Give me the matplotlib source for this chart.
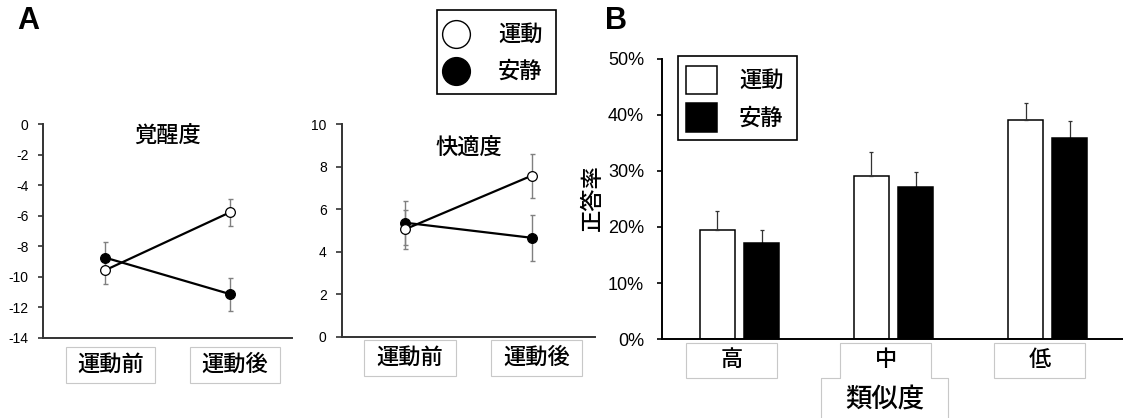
import matplotlib
matplotlib.use('Agg')
import matplotlib.pyplot as plt
import numpy as np
import matplotlib.transforms as mtransforms
from matplotlib.patches import Rectangle
from matplotlib.lines import Line2D
from matplotlib.ticker import PercentFormatter, MultipleLocator

plt.rcParams['font.family'] = ['Liberation Sans', 'Noto Sans CJK JP']
plt.rcParams['axes.unicode_minus'] = False

# ---------------- data ----------------
time_labels = ['運動前', '運動後']
series_names = ['運動', '安静']

arousal_title = '覚醒度'
arousal_exercise = [-9.57, -5.79]
arousal_exercise_err = [0.88, 0.90]
arousal_rest = [-8.76, -11.14]
arousal_rest_err = [1.03, 1.08]

comfort_title = '快適度'
comfort_exercise = [5.05, 7.57]
comfort_exercise_err = [0.92, 1.04]
comfort_rest = [5.36, 4.65]
comfort_rest_err = [1.03, 1.09]

similarity_labels = ['高', '中', '低']
similarity_title = '類似度'
accuracy_label = '正答率'
accuracy_exercise = [0.195, 0.291, 0.391]
accuracy_exercise_err = [0.034, 0.043, 0.031]
accuracy_rest = [0.171, 0.272, 0.359]
accuracy_rest_err = [0.023, 0.026, 0.031]

# ---------------- layout helpers ----------------
W, H = 1123, 418
fig = plt.figure(figsize=(W / 100, H / 100), dpi=100)

JP_WEIGHT = 'medium'


def fx(px):
    return px / W


def fy(py):
    return 1 - py / H


def add_ax(l, t, r, b):
    return fig.add_axes([fx(l), fy(b), (r - l) / W, (b - t) / H])


BOX_EDGE = '#c8c8c8'


def line_panel(ax, title, ex, ex_err, rs, rs_err, ylim, step, title_y,
               box_top, box_bot, tick_len, tick_pad):
    x = np.arange(len(time_labels))
    ax.errorbar(x, rs, yerr=rs_err, fmt='none', ecolor='#808080',
                elinewidth=1.0, capsize=1.8, capthick=1.0, zorder=2)
    ax.errorbar(x, ex, yerr=ex_err, fmt='none', ecolor='#808080',
                elinewidth=1.0, capsize=1.8, capthick=1.0, zorder=2)
    ax.plot(x, rs, color='black', lw=1.6, marker='o', ms=7,
            mfc='black', mec='black', mew=0.9, zorder=3)
    ax.plot(x, ex, color='black', lw=1.6, marker='o', ms=7,
            mfc='white', mec='black', mew=0.9, zorder=4)
    ax.set_xlim(-0.5, 1.5)
    ax.set_ylim(*ylim)
    ax.yaxis.set_major_locator(MultipleLocator(step))
    ax.set_xticks([])
    for s in ['top', 'right']:
        ax.spines[s].set_visible(False)
    for s in ['left', 'bottom']:
        ax.spines[s].set_color('#333333')
        ax.spines[s].set_linewidth(1.4)
    ax.tick_params(axis='y', direction='out', length=tick_len, width=1.2,
                   color='#333333', pad=tick_pad, labelsize=10)
    ax.text(0.5, title_y, title, transform=ax.transAxes, ha='center',
            va='center', fontsize=16, fontweight=JP_WEIGHT)
    trans = mtransforms.blended_transform_factory(ax.transData, ax.transAxes)
    for i, lab in enumerate(time_labels):
        cx = i + 0.04
        ax.add_patch(Rectangle((cx - 0.36, box_bot), 0.72, box_top - box_bot,
                               transform=trans, fill=False,
                               edgecolor=BOX_EDGE, lw=0.8, clip_on=False))
        ax.text(cx, (box_top + box_bot) / 2, lab, transform=trans,
                ha='center', va='center', fontsize=16, fontweight=JP_WEIGHT)


ax1 = add_ax(43.3, 124, 292, 337.7)
line_panel(ax1, arousal_title, arousal_exercise, arousal_exercise_err,
           arousal_rest, arousal_rest_err, (-14, 0), 2, 0.944,
           -0.045, -0.21, 3.6, 7.0)

ax2 = add_ax(341.7, 124, 595, 336.7)
line_panel(ax2, comfort_title, comfort_exercise, comfort_exercise_err,
           comfort_rest, comfort_rest_err, (0, 10), 2, 0.886,
           -0.016, -0.185, 4.3, 6.5)

# ---------------- panel B ----------------
ax3 = add_ax(662, 59, 1123, 339)
xb = np.arange(len(similarity_labels))
bw, off = 0.227, 0.143
ax3.bar(xb - off, accuracy_exercise, bw, color='white', edgecolor='black',
        lw=1.1, zorder=2)
ax3.bar(xb + off, accuracy_rest, bw, color='black', edgecolor='black',
        lw=1.1, zorder=2)
ax3.errorbar(xb - off, accuracy_exercise,
             yerr=[np.zeros(len(xb)), accuracy_exercise_err], fmt='none',
             ecolor='#333333', elinewidth=0.9, capsize=1.5, capthick=0.9,
             zorder=3)
ax3.errorbar(xb + off, accuracy_rest,
             yerr=[np.zeros(len(xb)), accuracy_rest_err], fmt='none',
             ecolor='#333333', elinewidth=0.9, capsize=1.5, capthick=0.9,
             zorder=1)
ax3.set_xlim(-0.503, 2.49)
ax3.set_ylim(0, 0.5)
ax3.yaxis.set_major_locator(MultipleLocator(0.1))
ax3.yaxis.set_major_formatter(PercentFormatter(xmax=1, decimals=0))
ax3.set_xticks([])
for s in ['top', 'right']:
    ax3.spines[s].set_visible(False)
for s in ['left', 'bottom']:
    ax3.spines[s].set_color('black')
    ax3.spines[s].set_linewidth(1.4)
ax3.tick_params(axis='y', direction='out', length=3.4, width=1.2,
                pad=9.4, labelsize=13)

transB = mtransforms.blended_transform_factory(ax3.transData, ax3.transAxes)
b_top, b_mid, b_bot = -0.0154, -0.1404, -0.32
mid = len(similarity_labels) // 2
for i, lab in enumerate(similarity_labels):
    cx = i - 0.05
    hw = 0.296
    if i == mid:
        ox = 0.4115
        cx2 = i - 0.057
        pts_x = [cx2 - ox, cx2 - ox, cx - hw, cx - hw, cx + hw, cx + hw,
                 cx2 + ox, cx2 + ox]
        pts_y = [b_bot, b_mid, b_mid, b_top, b_top, b_mid, b_mid, b_bot]
        ax3.add_line(Line2D(pts_x, pts_y, transform=transB, color=BOX_EDGE,
                            lw=0.8, clip_on=False))
        ax3.text(cx2, -0.213, similarity_title, transform=transB,
                 ha='center', va='center', fontsize=19, fontweight=JP_WEIGHT)
    else:
        ax3.add_patch(Rectangle((cx - hw, b_mid), 2 * hw, b_top - b_mid,
                                transform=transB, fill=False,
                                edgecolor=BOX_EDGE, lw=0.8, clip_on=False))
    ax3.text(cx, (b_top + b_mid) / 2, lab, transform=transB, ha='center',
             va='center', fontsize=16, fontweight=JP_WEIGHT)

fig.text(fx(593), fy(198), accuracy_label, rotation=90, ha='center',
         va='center', fontsize=16, fontweight=JP_WEIGHT)

# ---------------- legends ----------------
# legend A (circles)
fig.add_artist(Rectangle((fx(437), fy(94)), (556 - 437) / W, (94 - 10) / H,
                         transform=fig.transFigure, fill=False,
                         edgecolor='black', lw=1.2))
for (name, fc, cy) in [(series_names[0], 'white', 34.3),
                       (series_names[1], 'black', 71)]:
    fig.add_artist(Line2D([fx(456)], [fy(cy)], marker='o', ms=20,
                          mfc=fc, mec='black', mew=1.0,
                          transform=fig.transFigure))
    fig.text(fx(498), fy(cy + 1), name, ha='left', va='center', fontsize=16,
             fontweight=JP_WEIGHT)

# legend B (squares)
fig.add_artist(Rectangle((fx(678), fy(140)), (797 - 678) / W, (140 - 56) / H,
                         transform=fig.transFigure, fill=False,
                         edgecolor='black', lw=1.2))
for (name, fc, top, bot) in [(series_names[0], 'white', 66, 94),
                             (series_names[1], 'black', 103, 132)]:
    fig.add_artist(Rectangle((fx(686), fy(bot)), (717 - 686) / W,
                             (bot - top) / H, transform=fig.transFigure,
                             facecolor=fc, edgecolor='black', lw=1.1))
    fig.text(fx(739), fy((top + bot) / 2 + 1.5), name, ha='left',
             va='center', fontsize=16, fontweight=JP_WEIGHT)

# panel letters
fig.text(fx(17), fy(6), 'A', fontsize=22, fontweight='bold', ha='left',
         va='top')
fig.text(fx(605), fy(6), 'B', fontsize=22, fontweight='bold', ha='left',
         va='top')

fig.savefig('out.png', dpi=100)
